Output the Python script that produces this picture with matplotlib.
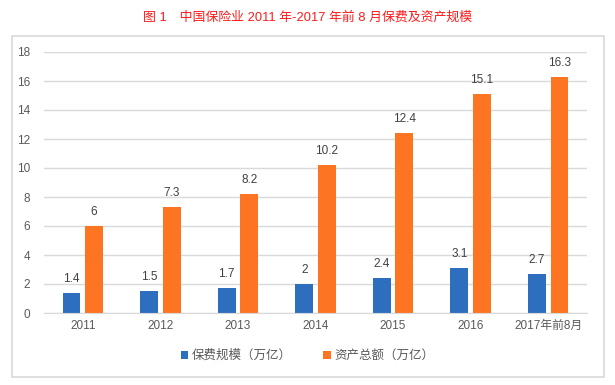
import matplotlib.pyplot as plt
import numpy as np
from matplotlib.patches import Rectangle

plt.rcParams['font.family'] = ['Liberation Sans', 'Noto Sans CJK SC']

years = ['2011', '2012', '2013', '2014', '2015', '2016', '2017年前8月']
premium = [1.4, 1.5, 1.7, 2, 2.4, 3.1, 2.7]
assets = [6, 7.3, 8.2, 10.2, 12.4, 15.1, 16.3]
names = ['保费规模（万亿）', '资产总额（万亿）']

blue = '#2E6EBF'
orange = '#FD7423'
grey = '#595959'

fig = plt.figure(figsize=(6.15, 3.85), dpi=100)
# outer chart box
fig.patches.append(Rectangle((12/615, 1-377/385), 592/615, 341/385, transform=fig.transFigure,
                             fill=False, edgecolor='#D9D9D9', linewidth=1.2))
fig.text(0.5, 1-17/385, '图 1　中国保险业 2011 年-2017 年前 8 月保费及资产规模',
         ha='center', va='center', color='#FF1A1A', fontsize=9.3)

ax = fig.add_axes([44/615, 1-313/385, 543/615, 261/385])
x = np.arange(len(years))
w = 0.23
b1 = ax.bar(x - w/2 - 0.03, premium, w, color=blue, label=names[0])
b2 = ax.bar(x + w/2 + 0.03, assets, w, color=orange, label=names[1])
for xi, v in zip(x, premium):
    ax.text(xi - w/2 - 0.03, v + 0.55, str(v), ha='center', va='bottom', fontsize=8.5, color='#404040')
for xi, v in zip(x, assets):
    ax.text(xi + w/2 + 0.03, v + 0.55, str(v), ha='center', va='bottom', fontsize=8.5, color='#404040')

ax.set_xlim(-0.5, len(years) - 0.5)
ax.set_ylim(0, 18)
ax.set_yticks(range(0, 19, 2))
ax.set_xticks(x)
ax.set_xticklabels(years)
ax.yaxis.grid(True, color='#D9D9D9', linewidth=1)
ax.set_axisbelow(True)
for s in ['top', 'right', 'left']:
    ax.spines[s].set_visible(False)
ax.spines['bottom'].set_color('#D9D9D9')
ax.tick_params(axis='both', length=0, labelsize=8.5, colors=grey, pad=5)
ax.tick_params(axis='y', pad=10)

fig.legend(handles=[b1, b2], loc='center', bbox_to_anchor=(0.5, 1-356/385), ncol=2,
           frameon=False, fontsize=9, handlelength=0.6, handleheight=0.6,
           handletextpad=0.3, columnspacing=2.5, labelcolor=grey)

plt.savefig('out.png', dpi=100)
